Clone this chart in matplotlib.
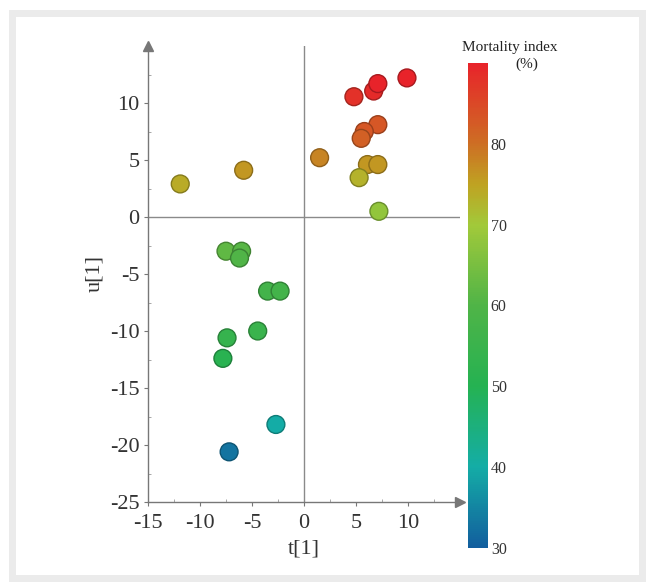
import numpy as np
import matplotlib
matplotlib.use("Agg")
import matplotlib.pyplot as plt
from matplotlib.colors import LinearSegmentedColormap, to_rgb
from matplotlib.patches import Rectangle

# ---- data ----
t1 = [-11.9, -5.8, 1.5, 4.8, 6.7, 7.1, 9.9, 7.1, 5.8, 5.5, 6.1, 7.1, 5.3, 7.2,
      -7.5, -6.0, -6.2, -3.5, -2.3, -4.45, -7.4, -7.8, -2.7, -7.2]
u1 = [2.9, 4.1, 5.2, 10.55, 11.05, 11.7, 12.2, 8.1, 7.5, 6.9, 4.6, 4.6, 3.45, 0.5,
      -3.0, -3.0, -3.6, -6.5, -6.5, -10.0, -10.6, -12.4, -18.2, -20.6]
mortality = [74, 76, 78, 88, 89, 90, 92, 83, 83, 82, 76, 76, 73, 68,
             62, 61, 60, 57, 57, 55, 54, 51, 40, 33]
x_ticks = [-15, -10, -5, 0, 5, 10]
y_ticks = [-25, -20, -15, -10, -5, 0, 5, 10]
cbar_ticks = [30, 40, 50, 60, 70, 80]

plt.rcParams['font.family'] = ['Liberation Serif', 'DejaVu Serif']
plt.rcParams['axes.unicode_minus'] = False

cmap = LinearSegmentedColormap.from_list("mort", [
    (0.0, "#125e9e"),
    (1/6, "#14ada6"),
    (2/6, "#25b252"),
    (3/6, "#4fb447"),
    (4/6, "#a2c93a"),
    (0.75, "#bfa322"),
    (5/6, "#cd6f24"),
    (1.0, "#e8232a"),
])
vmin, vmax = 30, 90

fig = plt.figure(figsize=(6.47, 5.83), dpi=100)
fig.patch.set_facecolor("white")
W, H = 647, 583
fig.patches.append(Rectangle((9/W, 1 - 582/H), (646-9)/W, (582-10)/H,
                             transform=fig.transFigure, facecolor="#ebebeb",
                             edgecolor="none", zorder=-10))
fig.patches.append(Rectangle((16/W, 1 - 575/H), (639-16)/W, (575-17)/H,
                             transform=fig.transFigure, facecolor="white",
                             edgecolor="none", zorder=-9))

ax = fig.add_axes([148/W, 1 - 502/H, (460-148)/W, (502-46)/H])
ax.set_facecolor("none")
ax.set_xlim(-15, 15)
ax.set_ylim(-25, 15)

norm = plt.Normalize(vmin, vmax)
face = [cmap(norm(v)) for v in mortality]
edge = [tuple(np.array(to_rgb(c)) * 0.72) for c in face]

ax.axhline(0, color="#8a8a8a", lw=1.0, zorder=1)
ax.axvline(0, color="#8a8a8a", lw=1.0, zorder=1)
ax.scatter(t1, u1, c=mortality, cmap=cmap, vmin=vmin, vmax=vmax, s=165,
           edgecolors=edge, linewidths=1.0, zorder=3)

for s in ["top", "right"]:
    ax.spines[s].set_visible(False)
for s in ["left", "bottom"]:
    ax.spines[s].set_color("#777777")
    ax.spines[s].set_linewidth(1.0)
ax.plot(1, 0, ">", color="#777777", ms=7, transform=ax.transAxes, clip_on=False)
ax.plot(0, 1, "^", color="#777777", ms=7, transform=ax.transAxes, clip_on=False)

ax.set_xticks(x_ticks)
ax.set_yticks(y_ticks)
ax.set_xticks(np.arange(-12.5, 15, 2.5), minor=True)
ax.set_yticks(np.arange(-22.5, 15, 2.5), minor=True)
ax.tick_params(which="major", direction="out", length=3, color="#777777",
               labelsize=16, labelcolor="#333333")
ax.tick_params(axis="x", which="major", pad=6)
ax.tick_params(axis="y", which="major", pad=3)
ax.tick_params(which="minor", direction="in", length=2.5, color="#999999")

ax.set_xlabel("t[1]", fontsize=16, color="#333333", labelpad=4)
ax.set_ylabel("u[1]", fontsize=16, color="#333333", labelpad=4)

cax = fig.add_axes([468/W, 1 - 548/H, 20/W, (548-63)/H])
sm = plt.cm.ScalarMappable(norm=norm, cmap=cmap)
cb = fig.colorbar(sm, cax=cax, ticks=cbar_ticks)
cb.outline.set_visible(False)
cax.tick_params(length=0, labelsize=11.5, labelcolor="#333333", pad=2)

fig.text(510/W, 1 - 47/H, "Mortality index", ha="center", va="center",
         fontsize=11, color="#222222")
fig.text(527/W, 1 - 64/H, "(%)", ha="center", va="center",
         fontsize=11, color="#222222")

fig.savefig("out.png", dpi=100)
